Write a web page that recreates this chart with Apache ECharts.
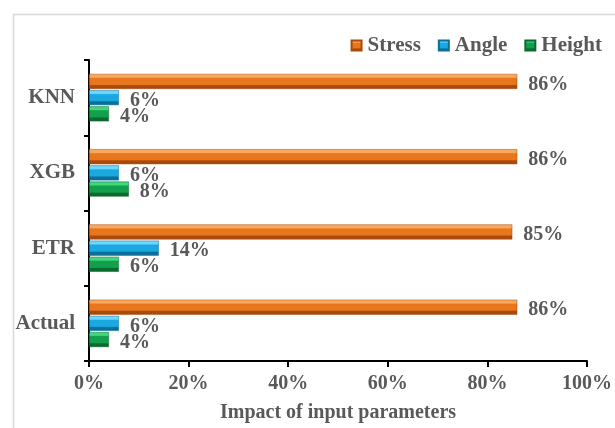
<!DOCTYPE html>
<html>
<head>
<meta charset="utf-8">
<script src="https://cdn.jsdelivr.net/npm/echarts@6/dist/echarts.min.js"></script>
<style>
  html, body { margin: 0; padding: 0; background: #ffffff; }
  #chart { width: 615px; height: 428px; }
</style>
</head>
<body>
<div id="chart"></div>
<script>
// Categories listed bottom-to-top along the value axis
const models = ['Actual', 'ETR', 'XGB', 'KNN'];
const stress = [86, 85, 86, 86];
const angle = [6, 14, 6, 6];
const height = [4, 6, 8, 4];
const xTicks = [0, 20, 40, 60, 80, 100];

const FONT = '"Liberation Serif", "Times New Roman", serif';
const TEXT = '#595959';

// Bevel-like shading: light top edge, base body, dark bottom edge
function bevel(light, base, dark) {
  return new echarts.graphic.LinearGradient(0, 0, 0, 1, [
    { offset: 0, color: light },
    { offset: 0.22, color: light },
    { offset: 0.3, color: base },
    { offset: 0.7, color: base },
    { offset: 0.78, color: dark },
    { offset: 1, color: dark }
  ]);
}

function barSeries(name, values, light, base, dark) {
  return {
    name: name,
    type: 'bar',
    data: values,
    barWidth: 15,
    barGap: '8%',
    itemStyle: { color: bevel(light, base, dark), borderColor: dark, borderWidth: 0.5 },
    label: {
      show: true,
      position: 'right',
      distance: 11,
      formatter: '{c}%',
      fontFamily: FONT,
      fontWeight: 'bold',
      fontSize: 20,
      color: TEXT,
      offset: [0, 3]
    }
  };
}

const chart = echarts.init(document.getElementById('chart'), null, { renderer: 'canvas' });

chart.setOption({
  animation: false,
  backgroundColor: '#ffffff',
  graphic: [{
    type: 'rect',
    left: 11, top: 12,
    shape: { width: 700, height: 500 },
    style: { fill: 'none', stroke: '#d9d9d9', lineWidth: 1.5 },
    silent: true
  }],
  legend: {
    data: ['Stress', 'Angle', 'Height'],
    right: 8,
    top: 30,
    icon: 'rect',
    itemWidth: 10,
    itemHeight: 10,
    itemGap: 17,
    textStyle: { fontFamily: FONT, fontWeight: 'bold', fontSize: 21, color: TEXT, padding: [0, 0, 0, 1] }
  },
  grid: { left: 89, right: 25, top: 60, bottom: 66, containLabel: false },
  xAxis: {
    type: 'value',
    min: xTicks[0],
    max: xTicks[xTicks.length - 1],
    interval: xTicks[1] - xTicks[0],
    name: 'Impact of input parameters',
    nameLocation: 'middle',
    nameGap: 42,
    nameTextStyle: { fontFamily: FONT, fontWeight: 'bold', fontSize: 20, color: TEXT },
    axisLine: { show: true, lineStyle: { color: '#000000', width: 2 } },
    axisTick: { show: true, length: 6, lineStyle: { color: '#000000', width: 2 } },
    axisLabel: { formatter: '{value}%', margin: 13, fontFamily: FONT, fontWeight: 'bold', fontSize: 20, color: TEXT },
    splitLine: { show: false }
  },
  yAxis: {
    type: 'category',
    data: models,
    axisLine: { show: true, lineStyle: { color: '#000000', width: 2 } },
    axisTick: { show: true, length: 5, lineStyle: { color: '#000000', width: 2 } },
    axisLabel: { margin: 14, fontFamily: FONT, fontWeight: 'bold', fontSize: 21, color: TEXT }
  },
  // First series is drawn at the top of each category band
  series: [
    barSeries('Stress', stress, '#f8a860', '#e8761c', '#a84a0c'),
    barSeries('Angle', angle, '#6fd6ff', '#1aa8e0', '#0b6f99'),
    barSeries('Height', height, '#3fd87c', '#12a04c', '#0a6a30')
  ]
});
</script>
</body>
</html>
